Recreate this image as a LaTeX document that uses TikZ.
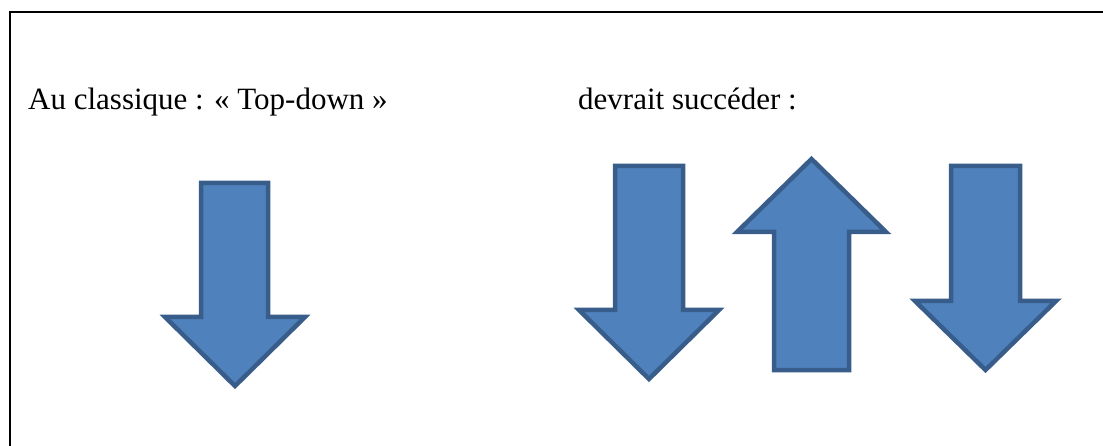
\documentclass[tikz,border=0pt]{standalone}
\usepackage{fontspec}
\setmainfont{Liberation Serif}
\definecolor{arrfill}{HTML}{4F81BD}
\definecolor{arrline}{HTML}{385D8A}
\tikzset{
  bigarrow/.style={fill=arrfill, draw=arrline, line width=4.5pt, line join=miter},
  frameline/.style={draw=black, line width=2.2pt},
  lbl/.style={anchor=base west, inner sep=0pt, font=\fontsize{31pt}{36pt}\selectfont}
}
\begin{document}
\begin{tikzpicture}[x=1pt,y=-1pt]
\useasboundingbox (0,0) rectangle (1103,446);
% frame (left and top only)
\draw[frameline] (10,446) -- (10,12) -- (1103,12);
% texts
\node[lbl] (t1) at (28,110) {Au classique : « Top-down »};
\node[lbl] (t2) at (578,110) {devrait succéder :};
% arrow 1 (down)
\draw[bigarrow] (201,183) -- (268,183) -- (268,317) -- (305,317) -- (235,386) -- (165,317) -- (201,317) -- cycle;
% arrow 2 (down)
\draw[bigarrow] (615,166) -- (683,166) -- (683,310) -- (719,310) -- (649,379) -- (579,310) -- (615,310) -- cycle;
% arrow 3 (up)
\draw[bigarrow] (774,370) -- (849,370) -- (849,232) -- (886,232) -- (811.5,159) -- (737,232) -- (774,232) -- cycle;
% arrow 4 (down)
\draw[bigarrow] (951,166) -- (1020,166) -- (1020,301) -- (1056,301) -- (985.5,370) -- (915,301) -- (951,301) -- cycle;
\end{tikzpicture}
\end{document}
